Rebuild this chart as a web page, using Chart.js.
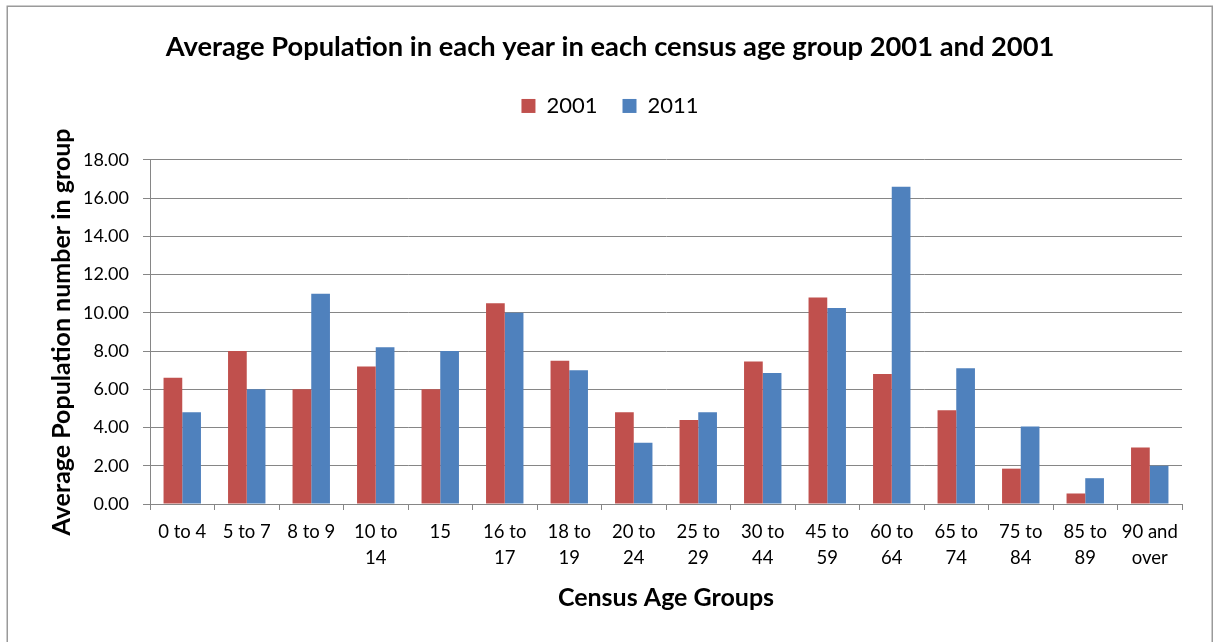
<!DOCTYPE html>
<html>
<head>
<meta charset="utf-8">
<script src="https://cdn.jsdelivr.net/npm/chart.js@4/dist/chart.umd.min.js"></script>
<style>
  html, body { margin: 0; padding: 0; background: #ffffff; }
  #wrap { width: 1214px; height: 642px; position: relative; }
</style>
</head>
<body>
<div id="wrap"><canvas id="chart" width="1214" height="642"></canvas></div>
<script>
// Census age groups (wrapped the way they appear under the axis)
const ageGroups = [
  ['0 to 4'], ['5 to 7'], ['8 to 9'], ['10 to', '14'], ['15'], ['16 to', '17'],
  ['18 to', '19'], ['20 to', '24'], ['25 to', '29'], ['30 to', '44'], ['45 to', '59'],
  ['60 to', '64'], ['65 to', '74'], ['75 to', '84'], ['85 to', '89'], ['90 and', 'over']
];

// Average population per group
const pop2001 = [6.6, 8.0, 6.0, 7.2, 6.0, 10.5, 7.5, 4.8, 4.4, 7.45, 10.8, 6.8, 4.9, 1.85, 0.55, 2.95];
const pop2011 = [4.8, 6.0, 11.0, 8.2, 8.0, 10.0, 7.0, 3.2, 4.8, 6.85, 10.25, 16.6, 7.1, 4.05, 1.35, 2.0];

// Value axis range
const yMin = 0;
const yMax = 18;
const yStep = 2;

const titleText = 'Average Population in each year in each census age group 2001 and 2001';
const xTitle = 'Census Age Groups';
const yTitle = 'Average Population number in group';

const FONT = 'Lato, "Open Sans", sans-serif';
const GRID = '#868686';

// Grey frame around the whole chart
const frame = {
  id: 'frame',
  beforeDraw(chart) {
    const ctx = chart.ctx;
    ctx.save();
    ctx.fillStyle = '#ffffff';
    ctx.fillRect(0, 0, chart.width, chart.height);
    ctx.strokeStyle = '#9a9a9a';
    ctx.lineWidth = 1.5;
    ctx.strokeRect(7.25, 6.25, 1205, 700);
    ctx.restore();
  }
};

// Extra room between the legend and the plot
const legendGap = {
  id: 'legendGap',
  afterInit(chart) {
    const legend = chart.legend;
    if (!legend) return;
    const fit = legend.fit;
    legend.fit = function () {
      fit.call(this);
      this.height += 33;
    };
  }
};

new Chart(document.getElementById('chart'), {
  type: 'bar',
  data: {
    labels: ageGroups,
    datasets: [
      { label: '2001', data: pop2001, backgroundColor: '#C0504D', borderWidth: 0 },
      { label: '2011', data: pop2011, backgroundColor: '#4F81BD', borderWidth: 0 }
    ]
  },
  plugins: [frame, legendGap],
  options: {
    responsive: false,
    animation: false,
    devicePixelRatio: 1,
    layout: { padding: { left: 24, right: 18, top: 0, bottom: 0 } },
    datasets: {
      bar: { categoryPercentage: 0.58, barPercentage: 1.0 }
    },
    plugins: {
      title: {
        display: true,
        text: titleText,
        color: '#000000',
        font: { family: FONT, size: 27.3, weight: 'bold' },
        padding: { top: 30.6, bottom: 6.6 }
      },
      legend: {
        display: true,
        position: 'top',
        labels: {
          color: '#000000',
          font: { family: FONT, size: 22 },
          boxWidth: 14,
          boxHeight: 14,
          padding: 25
        }
      },
      tooltip: { enabled: false }
    },
    scales: {
      x: {
        afterFit(scale) { scale.height = 642 - 504; },
        grid: {
          offset: true,
          drawOnChartArea: false,
          drawTicks: true,
          tickLength: 6,
          color: GRID,
          lineWidth: 1
        },
        border: { display: true, color: GRID, width: 1 },
        ticks: {
          color: '#000000',
          font: { family: FONT, size: 18.5, lineHeight: 1.4 },
          padding: 9,
          maxRotation: 0,
          minRotation: 0,
          autoSkip: false
        },
        title: {
          display: true,
          text: xTitle,
          color: '#000000',
          font: { family: FONT, size: 25, weight: 'bold' },
          padding: { top: 0, bottom: 29 }
        }
      },
      y: {
        min: yMin,
        max: yMax,
        afterFit(scale) { scale.width = 150 - 24; },
        grid: {
          color: GRID,
          lineWidth: 1,
          drawTicks: true,
          tickLength: 7
        },
        border: { display: true, color: GRID, width: 1 },
        ticks: {
          stepSize: yStep,
          color: '#000000',
          font: { family: FONT, size: 18 },
          padding: 14,
          callback: (v) => Number(v).toFixed(2)
        },
        title: {
          display: true,
          text: yTitle,
          color: '#000000',
          font: { family: FONT, size: 25, weight: 'bold' },
          padding: { top: 23, bottom: 0 }
        }
      },
      // empty margin on the right of the plot
      yRight: {
        position: 'right',
        display: true,
        afterFit(scale) { scale.width = 14; },
        grid: { display: false, drawOnChartArea: false },
        border: { display: false },
        ticks: { display: false }
      }
    }
  }
});
</script>
</body>
</html>
